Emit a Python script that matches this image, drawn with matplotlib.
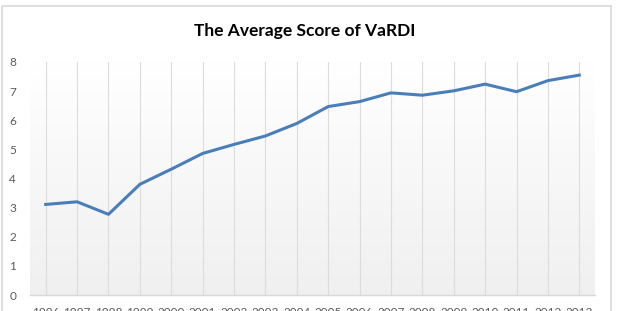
import numpy as np
import matplotlib
matplotlib.use("Agg")
import matplotlib.pyplot as plt
from matplotlib.patches import Rectangle

# data
years = ['1996', '1997', '1998', '1999', '2000', '2001', '2002', '2003', '2004',
         '2005', '2006', '2007', '2008', '2009', '2010', '2011', '2012', '2013']
scores = [3.11, 3.20, 2.77, 3.80, 4.32, 4.86, 5.17, 5.46, 5.89,
          6.47, 6.64, 6.94, 6.86, 7.01, 7.24, 6.98, 7.36, 7.55]
y_ticks = [0, 1, 2, 3, 4, 5, 6, 7, 8]

W, H = 621, 311
fig = plt.figure(figsize=(W / 100, H / 100), dpi=100)
fig.patch.set_facecolor('white')

# outer chart border (cut off at the bottom like the screenshot)
fig.patches.append(Rectangle((2 / W, -0.1), 608.5 / W, (H - 6) / H + 0.1,
                             transform=fig.transFigure, fill=False,
                             edgecolor='#d9d9d9', linewidth=1.2))

ax = fig.add_axes([30 / W, (H - 295) / H, 565 / W, 233 / H])

x = np.arange(len(years))
n = len(years)

# soft vertical gradient behind the plot area: white at top, light grey at bottom
grad = np.linspace(1.0, 0.94, 256).reshape(-1, 1)
ax.imshow(np.dstack([grad, grad, grad]), extent=(-0.5, n - 0.5, 0, 8),
          aspect='auto', zorder=0, origin='upper')
ax.set_xlim(-0.5, n - 0.5)
ax.set_ylim(0, 8)

for xi in x:
    ax.axvline(xi, color='#dcdcdc', linewidth=0.8, zorder=1)

ax.plot(x, scores, color='#4a7ebb', linewidth=2.2, zorder=3,
        solid_joinstyle='round')

for s in ['top', 'right', 'left']:
    ax.spines[s].set_visible(False)
ax.spines['bottom'].set_color('#d9d9d9')
ax.spines['bottom'].set_linewidth(1)

ax.set_xticks(x)
ax.set_xticklabels(years)
ax.set_yticks(y_ticks)
ax.tick_params(length=0, colors='#595959', labelsize=8.5)
ax.tick_params(axis='y', pad=10)
ax.tick_params(axis='x', pad=9)
for lab in ax.get_xticklabels() + ax.get_yticklabels():
    lab.set_fontfamily('Lato')

fig.text(305 / W, 1 - 31 / H, 'The Average Score of VaRDI', ha='center',
         va='center', fontsize=12.5, fontweight='bold', family='Lato',
         color='#000000')

fig.savefig('out.png', dpi=100)
